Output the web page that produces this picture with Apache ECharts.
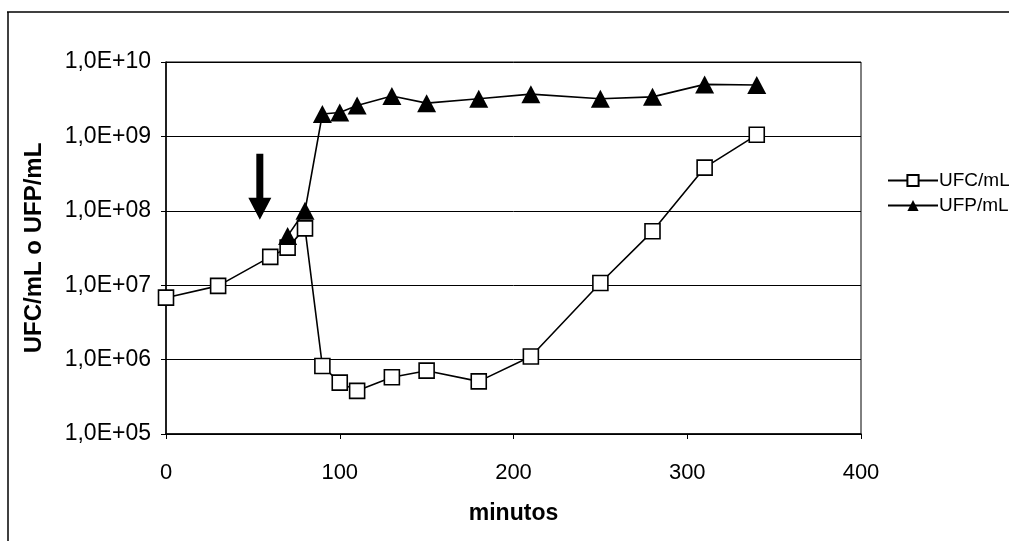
<!DOCTYPE html>
<html>
<head>
<meta charset="utf-8">
<script src="https://cdn.jsdelivr.net/npm/echarts@6/dist/echarts.min.js"></script>
<style>html,body{margin:0;padding:0;background:#fff;}#c{width:1009px;height:541px;}</style>
</head>
<body>
<div id="c"></div>
<script>
// ---- data ----
var minutesUFC = [0, 30, 60, 70, 80, 90, 100, 110, 130, 150, 180, 210, 250, 280, 310, 340];
var valuesUFC  = [6.8e6, 9.8e6, 2.4e7, 3.2e7, 5.8e7, 8.2e5, 4.9e5, 3.8e5, 5.8e5, 7.1e5, 5.1e5, 1.1e6, 1.07e7, 5.3e7, 3.8e8, 1.05e9];
var minutesUFP = [70, 80, 90, 100, 110, 130, 150, 180, 210, 250, 280, 310, 340];
var valuesUFP  = [4.6e7, 1.0e8, 2.0e9, 2.1e9, 2.6e9, 3.5e9, 2.8e9, 3.2e9, 3.7e9, 3.2e9, 3.4e9, 5.0e9, 4.9e9];
var seriesNames = ['UFC/mL', 'UFP/mL'];
var yTickLabels = ['1,0E+05', '1,0E+06', '1,0E+07', '1,0E+08', '1,0E+09', '1,0E+10'];
var xTicks = [0, 100, 200, 300, 400];
var arrowAt = [54, 2.1e8];
var xTitle = 'minutos';
var yTitle = 'UFC/mL o UFP/mL';

function pairs(xs, ys) { return xs.map(function (x, i) { return [x, ys[i]]; }); }

var FONT = '"Liberation Sans", Arial, sans-serif';
var chart = echarts.init(document.getElementById('c'), null, { renderer: 'canvas' });
chart.setOption({
  animation: false,
  backgroundColor: '#fff',
  textStyle: { fontFamily: FONT, color: '#000' },
  grid: { left: 166, right: 148, top: 62, bottom: 107, show: true, borderColor: '#000', borderWidth: 1, backgroundColor: 'transparent' },
  xAxis: {
    type: 'value', min: xTicks[0], max: xTicks[xTicks.length - 1], interval: 100,
    name: xTitle, nameLocation: 'middle', nameGap: 68,
    nameTextStyle: { fontFamily: FONT, fontSize: 23, fontWeight: 'bold', color: '#000' },
    axisLine: { show: true, lineStyle: { color: '#000', width: 1.5 } },
    axisTick: { show: true, inside: false, length: 5, lineStyle: { color: '#000' } },
    axisLabel: { fontFamily: FONT, fontSize: 22, color: '#000', margin: 28 },
    splitLine: { show: false }
  },
  yAxis: {
    type: 'log', logBase: 10, min: 1e5, max: 1e10, splitNumber: 5,
    name: yTitle, nameLocation: 'middle', nameGap: 120, nameRotate: 90,
    nameTextStyle: { fontFamily: FONT, fontSize: 24, fontWeight: 'bold', color: '#000' },
    axisLine: { show: true, lineStyle: { color: '#000', width: 1.5 } },
    axisTick: { show: true, inside: false, length: 5, lineStyle: { color: '#000' } },
    axisLabel: {
      fontFamily: FONT, fontSize: 23, color: '#000', margin: 15,
      formatter: function (v) { return yTickLabels[Math.round(Math.log10(v)) - 5]; }
    },
    splitLine: { show: true, lineStyle: { color: '#000', width: 1 } },
    minorTick: { show: false }
  },
  legend: {
    data: seriesNames, orient: 'vertical', left: 882, top: 166,
    itemWidth: 50, itemHeight: 14, itemGap: 6,
    textStyle: { fontFamily: FONT, fontSize: 19, color: '#000', padding: [0, 0, 0, -4] }
  },
  series: [
    {
      name: seriesNames[0], type: 'line', data: pairs(minutesUFC, valuesUFC),
      symbol: 'rect', symbolSize: 15,
      lineStyle: { color: '#000', width: 1.6 },
      itemStyle: { color: '#fff', borderColor: '#000', borderWidth: 1.6 },
      z: 3
    },
    {
      name: seriesNames[1], type: 'line', data: pairs(minutesUFP, valuesUFP),
      symbol: 'triangle', symbolSize: [19, 18],
      lineStyle: { color: '#000', width: 1.6 },
      itemStyle: { color: '#000', borderColor: '#000', borderWidth: 0 },
      z: 4
    },
    {
      name: 'arrow', type: 'scatter', data: [arrowAt],
      symbol: 'path://M8,0 L15,0 L15,44 L23,44 L11.5,66 L0,44 L8,44 Z',
      symbolSize: [23, 66], symbolKeepAspect: false,
      itemStyle: { color: '#000', opacity: 1 }, silent: true, z: 5
    }
  ],
  graphic: [
    { type: 'line', shape: { x1: 7, y1: 12, x2: 1009, y2: 12 }, style: { stroke: '#000', lineWidth: 1.5 } },
    { type: 'line', shape: { x1: 8, y1: 12, x2: 8, y2: 541 }, style: { stroke: '#000', lineWidth: 1.5 } }
  ]
});
</script>
</body>
</html>
